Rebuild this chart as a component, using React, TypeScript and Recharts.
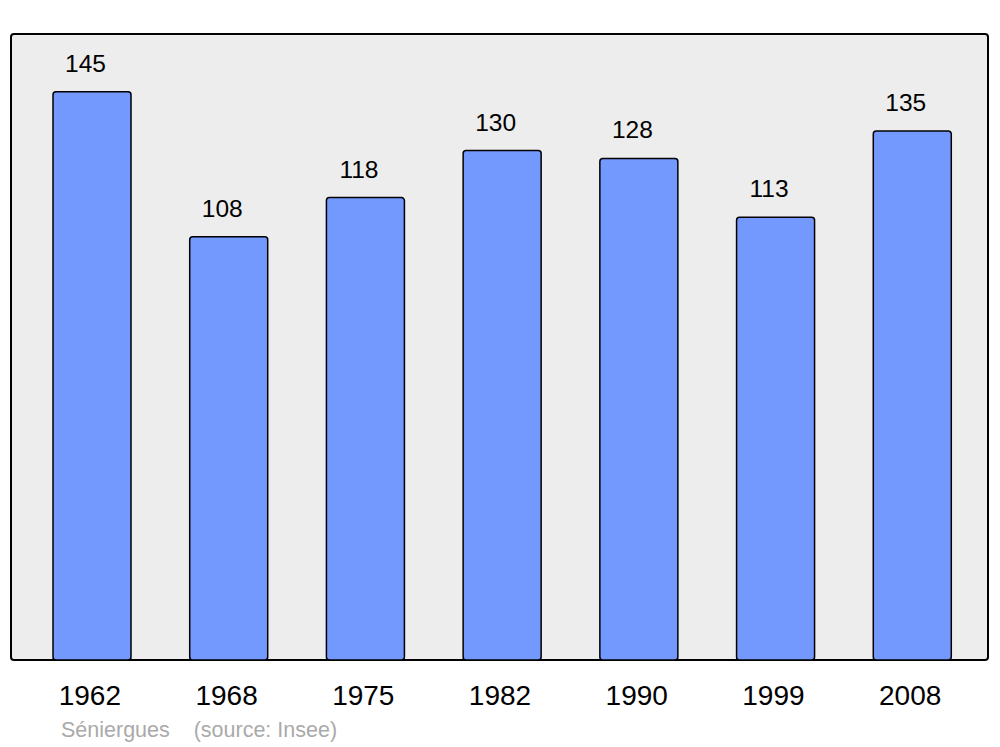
import React from 'react';
import { BarChart, Bar, XAxis, YAxis, LabelList } from 'recharts';

const YEARS = ['1962', '1968', '1975', '1982', '1990', '1999', '2008'];
const POPULATION = [145, 108, 118, 130, 128, 113, 135];

const data = YEARS.map((year, i) => ({ year, pop: POPULATION[i] }));

const FONT = '"Liberation Sans", Arial, sans-serif';

const App: React.FC = () => {
  return (
    <div style={{ position: 'absolute', left: 0, top: 0, width: 1000, height: 747, background: '#fff', fontFamily: FONT }}>
      {/* frame behind the plot */}
      <div
        style={{
          position: 'absolute',
          left: 10,
          top: 33,
          width: 975,
          height: 624,
          border: '2.5px solid #000',
          borderRadius: 4,
          background: '#ededed',
        }}
      />
      <div style={{ position: 'absolute', left: 0, top: 0 }}>
        <BarChart width={1000} height={747} data={data} margin={{ top: 33, right: 11, left: 11, bottom: 57 }}>
          <XAxis
            dataKey="year"
            height={30}
            axisLine={false}
            tickLine={false}
            tickMargin={19}
            padding={{ left: 13, right: 8 }}
            tick={{ fontSize: 28, fill: '#000', fontFamily: FONT, dx: -2.5 }}
            interval={0}
          />
          <YAxis hide domain={[0, 160]} />
          <Bar dataKey="pop" barSize={78} fill="#7399ff" stroke="#000" strokeWidth={1.5} radius={3} isAnimationActive={false}>
            <LabelList
              dataKey="pop"
              position="top"
              offset={20}
              dx={-6.5}
              style={{ fontSize: 24.5, fill: '#000', fontFamily: FONT }}
            />
          </Bar>
        </BarChart>
      </div>
      <div style={{ position: 'absolute', left: 61, top: 718, fontSize: 21.5, color: '#aaaaaa', whiteSpace: 'pre' }}>
        {'Séniergues    (source: Insee)'}
      </div>
    </div>
  );
};

export default App;
